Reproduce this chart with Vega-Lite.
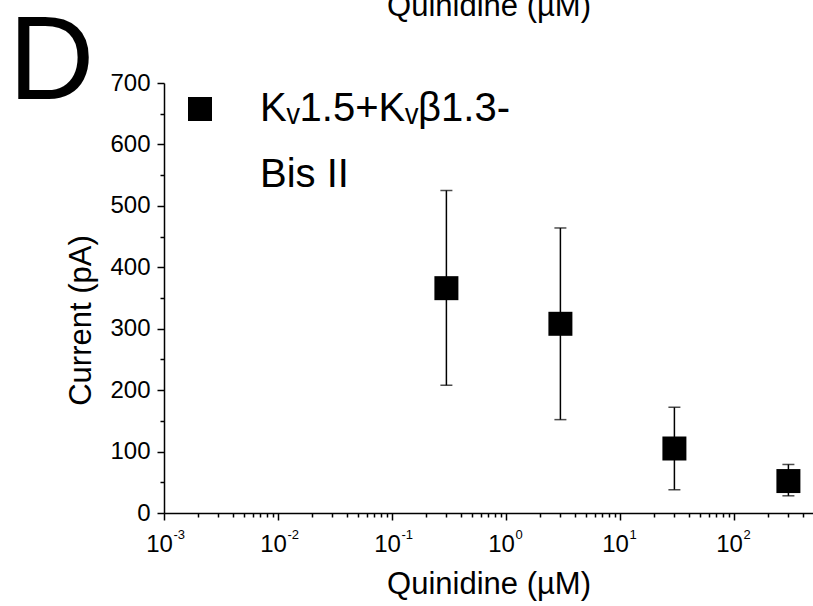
{
  "$schema": "https://vega.github.io/schema/vega-lite/v6.json",
  "width": 649,
  "height": 430,
  "autosize": "none",
  "padding": {"left": 164, "top": 83, "right": 0, "bottom": 93},
  "background": "white",
  "config": {
    "view": {"stroke": null},
    "axis": {
      "grid": false,
      "domainColor": "black",
      "tickColor": "black",
      "labelColor": "black",
      "titleColor": "black",
      "labelFont": "Liberation Sans",
      "titleFont": "Liberation Sans",
      "titleFontWeight": "normal",
      "domainWidth": 1.5,
      "tickWidth": 1.5,
      "labelFlush": false,
      "labelOverlap": false,
      "labelBound": false
    }
  },
  "data": {
    "values": [
      {"conc": 0.3, "current": 366, "upper": 525, "lower": 208, "series": "Kv1.5+Kvβ1.3-Bis II"},
      {"conc": 3, "current": 308, "upper": 464, "lower": 152, "series": "Kv1.5+Kvβ1.3-Bis II"},
      {"conc": 30, "current": 105, "upper": 172, "lower": 38, "series": "Kv1.5+Kvβ1.3-Bis II"},
      {"conc": 300, "current": 52, "upper": 79, "lower": 28, "series": "Kv1.5+Kvβ1.3-Bis II"}
    ]
  },
  "resolve": {"axis": {"x": "independent", "y": "independent"}},
  "layer": [
    {
      "mark": {"type": "rule", "color": "black", "strokeWidth": 1.5},
      "encoding": {
        "x": {
          "field": "conc", "type": "quantitative",
          "scale": {"type": "log", "domain": [0.001, 493], "nice": false},
          "axis": {
            "orient": "bottom",
            "values": [0.001, 0.01, 0.1, 1, 10, 100],
            "labelExpr": "'10'",
            "tickSize": 7,
            "labelFontSize": 24,
            "labelBaseline": "alphabetic",
            "labelAlign": "center",
            "labelPadding": 31,
            "labelOffset": -5,
            "title": "Quinidine (µM)",
            "titleFontSize": 31,
            "titleBaseline": "alphabetic",
            "titleAlign": "center",
            "titleY": 80
          }
        },
        "y": {
          "field": "lower", "type": "quantitative",
          "scale": {"domain": [0, 700], "nice": false, "zero": true},
          "axis": {
            "orient": "left",
            "values": [0, 100, 200, 300, 400, 500, 600, 700],
            "tickSize": 7,
            "labelFontSize": 24,
            "labelPadding": 7,
            "labelBaseline": "middle",
            "title": "Current (pA)",
            "titleFontSize": 31,
            "titleAngle": 270,
            "titleAlign": "center",
            "titleBaseline": "alphabetic",
            "titleX": -74,
            "titleY": 237
          }
        },
        "y2": {"field": "upper"}
      }
    },
    {
      "mark": {"type": "tick", "orient": "horizontal", "color": "black", "size": 12, "thickness": 1.5},
      "encoding": {
        "x": {
          "field": "conc", "type": "quantitative",
          "scale": {"type": "log", "domain": [0.001, 493], "nice": false},
          "axis": {
            "orient": "bottom",
            "values": [0.002, 0.003, 0.004, 0.005, 0.006, 0.007, 0.008, 0.009,
                       0.02, 0.03, 0.04, 0.05, 0.06, 0.07, 0.08, 0.09,
                       0.2, 0.3, 0.4, 0.5, 0.6, 0.7, 0.8, 0.9,
                       2, 3, 4, 5, 6, 7, 8, 9,
                       20, 30, 40, 50, 60, 70, 80, 90,
                       200, 300, 400],
            "labels": false,
            "domain": false,
            "tickSize": 4,
            "title": null
          }
        },
        "y": {
          "field": "upper", "type": "quantitative",
          "scale": {"domain": [0, 700], "nice": false, "zero": true},
          "axis": {
            "orient": "left",
            "values": [50, 150, 250, 350, 450, 550, 650],
            "labels": false,
            "domain": false,
            "tickSize": 4,
            "title": null
          }
        }
      }
    },
    {
      "mark": {"type": "tick", "orient": "horizontal", "color": "black", "size": 12, "thickness": 1.5},
      "encoding": {
        "x": {
          "field": "conc", "type": "quantitative",
          "scale": {"type": "log", "domain": [0.001, 493], "nice": false},
          "axis": {
            "orient": "bottom",
            "values": [0.001, 0.01, 0.1, 1, 10, 100],
            "labelExpr": "'' + round(log(datum.value) / LN10)",
            "ticks": false,
            "domain": false,
            "labelFontSize": 13,
            "labelAlign": "left",
            "labelBaseline": "alphabetic",
            "labelPadding": 25.5,
            "labelOffset": 9,
            "title": null
          }
        },
        "y": {
          "field": "lower", "type": "quantitative",
          "scale": {"domain": [0, 700], "nice": false, "zero": true},
          "axis": {
            "orient": "left",
            "labels": false,
            "ticks": false,
            "domain": false,
            "title": "D",
            "titleFontSize": 119,
            "titleAngle": 0,
            "titleAlign": "left",
            "titleBaseline": "alphabetic",
            "titleX": -156,
            "titleY": 15
          }
        }
      }
    },
    {
      "mark": {"type": "point", "shape": "square", "filled": true, "size": 576, "opacity": 1, "strokeWidth": 0},
      "encoding": {
        "x": {
          "field": "conc", "type": "quantitative",
          "scale": {"type": "log", "domain": [0.001, 493], "nice": false},
          "axis": {
            "orient": "top",
            "labels": false,
            "ticks": false,
            "domain": false,
            "title": "Quinidine (µM)",
            "titleFontSize": 31,
            "titleBaseline": "alphabetic",
            "titleAlign": "center",
            "titleY": -68
          }
        },
        "y": {
          "field": "current", "type": "quantitative",
          "scale": {"domain": [0, 700], "nice": false, "zero": true},
          "axis": null
        },
        "color": {
          "field": "series", "type": "nominal",
          "scale": {"range": ["#000000"]},
          "legend": {
            "orient": "none",
            "legendX": 16,
            "legendY": 6,
            "padding": 0,
            "title": null,
            "symbolType": "square",
            "symbolSize": 576,
            "symbolFillColor": "#000000",
            "symbolStrokeWidth": 0,
            "symbolOpacity": 1,
            "labelFont": "Liberation Sans",
            "labelFontSize": 40,
            "labelColor": "black",
            "labelOffset": 40,
            "labelLimit": 1000,
            "labelBaseline": "middle",
            "labelExpr": "['Kᵥ1.5+Kᵥβ1.3-', 'Bis II']",
            "encode": {"labels": {"update": {"lineHeight": {"value": 66}}}}
          }
        }
      }
    }
  ]
}
